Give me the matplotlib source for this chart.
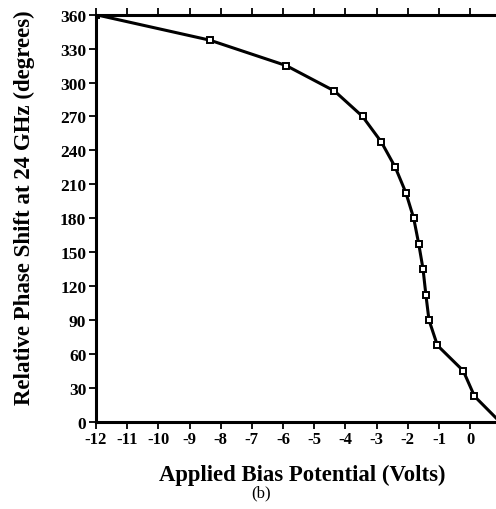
import matplotlib.pyplot as plt
import numpy as np

# bias voltage (V) and relative phase shift at 24 GHz (deg)
biasV = [-12.0, -8.35, -5.9, -4.35, -3.45, -2.85, -2.4, -2.06, -1.81, -1.65,
         -1.51, -1.42, -1.32, -1.05, -0.22, 0.14, 0.95]
phaseDeg = [360, 337.5, 315, 292.5, 270, 247.5, 225, 202.5, 180, 157.5,
            135, 112.5, 90, 67.5, 45, 22.5, 0]

xTicks = list(range(-12, 1))
yTicks = list(range(0, 361, 30))

plt.rcParams['font.family'] = 'Liberation Serif'

fig = plt.figure(figsize=(4.96, 5.10), dpi=100)
ax = fig.add_axes([0.1935, 0.1712, 0.8065, 0.798])

ax.plot(biasV, phaseDeg, '-', color='black', lw=2.2,
        marker='s', ms=5, mfc='white', mec='black', mew=1.4, clip_on=True)

ax.set_xlim(-12, 0.83)
ax.set_ylim(0, 360)
ax.set_xticks(xTicks)
ax.set_yticks(yTicks)
ax.set_xticklabels([str(t) for t in xTicks], fontweight='bold', fontsize=12)
ax.set_yticklabels([str(t) for t in yTicks], fontweight='bold', fontsize=12.5)

ax.spines['right'].set_visible(False)
for s in ['left', 'bottom', 'top']:
    ax.spines[s].set_linewidth(2.2)

ax.tick_params(axis='x', which='both', top=True, direction='out',
               length=5, width=1.3, pad=2)
ax.tick_params(axis='y', direction='out', length=5, width=1.3, pad=2)

# axis titles placed as in the scanned figure
fig.text(302 / 496, 1 - 475 / 510, "Applied Bias Potential (Volts)",
         ha='center', va='center', fontweight='bold', fontsize=16.4)
fig.text(24 / 496, 1 - 208 / 510, "Relative Phase Shift at 24 GHz (degrees)",
         ha='center', va='center', rotation=90, fontweight='bold', fontsize=16.5)

fig.text(261 / 496, 1 - 493 / 510, "(b)", ha='center', va='center', fontsize=12)

plt.savefig("out.png", dpi=100)
